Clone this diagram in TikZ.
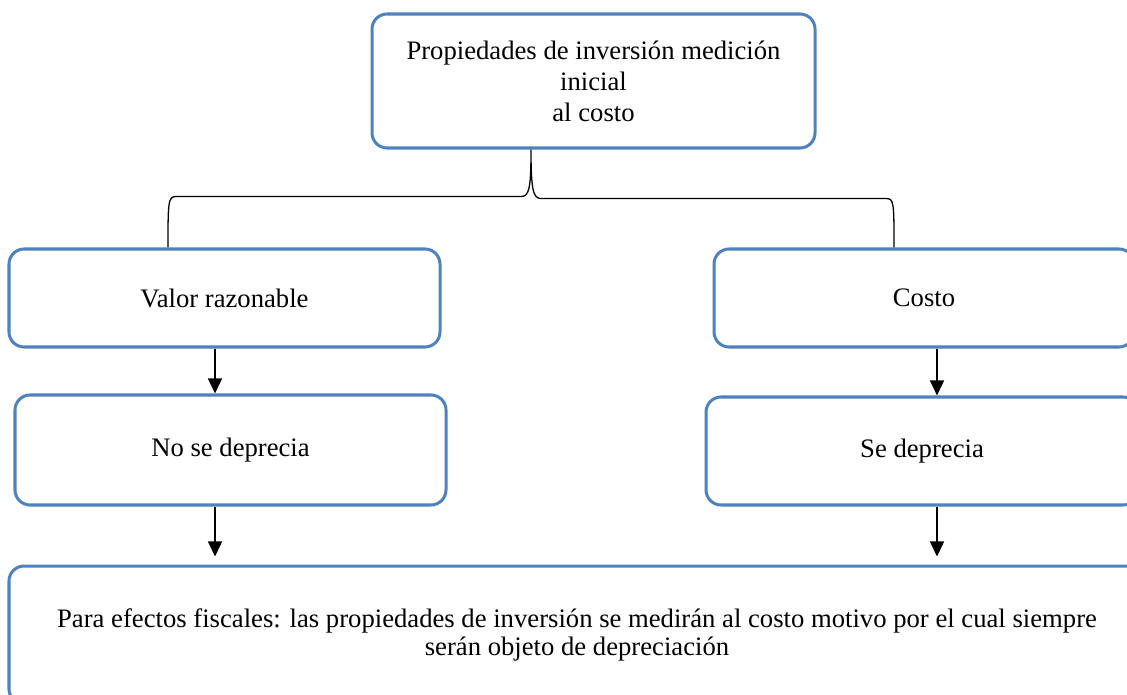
\documentclass[tikz,border=0pt]{standalone}
\usepackage{fontspec}
\setmainfont{Liberation Serif}
\usetikzlibrary{arrows.meta}
\definecolor{boxblue}{RGB}{79,129,189}
\newcommand{\px}{0.465pt}
\newcommand{\boxline}{1.4pt}
\tikzset{
  stepbox/.style={draw=boxblue, line width=\boxline, rounded corners=7pt,
    align=center, inner sep=0pt, font=\fontsize{12.4pt}{14.4pt}\selectfont},
  flow/.style={-{Triangle[length=7pt,width=6.5pt]}, line width=0.7pt},
  bracket/.style={line width=0.6pt},
}

\begin{document}
\begin{tikzpicture}[x=\px, y=-\px]
    \useasboundingbox (0,0) rectangle (1127,694);
    \clip (0,0) rectangle (1127,694);
    % boxes
    \node[stepbox, minimum width=443*\px, minimum height=134*\px]
      (medicion) at (593.5,81)
      {Propiedades de inversión medición\\inicial\\al costo};
    \node[stepbox, minimum width=431*\px, minimum height=98*\px]
      (valor) at (224.5,298) {\raisebox{-1pt}{Valor razonable}};
    \node[stepbox, minimum width=420*\px, minimum height=98*\px]
      (costo) at (924,298) {\raisebox{-1pt}{Costo}};
    \node[stepbox, minimum width=431*\px, minimum height=110*\px]
      (nodep) at (230.5,450) {\raisebox{-1pt}{No se deprecia}};
    \node[stepbox, minimum width=432*\px, minimum height=108*\px]
      (sedep) at (922,451) {\raisebox{-1pt}{Se deprecia}};
    \node[stepbox, minimum width=1136*\px, minimum height=138*\px,
      font=\fontsize{12.4pt}{13pt}\selectfont]
      (fiscal) at (577,635)
      {Para efectos fiscales: las propiedades de inversión se medirán al costo motivo por el cual siempre\\serán objeto de depreciación};
    % helper columns
    \coordinate (lx) at (215,0);
    \coordinate (rx) at (937,0);
    \coordinate (bl) at (168,0);
    \coordinate (bm) at (531,0);
    \coordinate (br) at (894,0);
    % bracket
    \draw[bracket] (valor.north -| bl)
      .. controls +(0,-45) and +(-8,0) .. ++(8,-51) -- ++(345,0)
      .. controls +(8,0) and +(0,40) .. (medicion.south -| bm)
      .. controls +(0,40) and +(-8,0) .. ++(10,49) -- ++(345,0)
      .. controls +(8,0) and +(0,-45) .. (costo.north -| br);
    % arrows
    \draw[flow] (valor.south -| lx) -- (nodep.north -| lx);
    \draw[flow] (costo.south -| rx) -- (sedep.north -| rx);
    \draw[flow, shorten >=3.7pt] (nodep.south -| lx) -- (fiscal.north -| lx);
    \draw[flow, shorten >=3.7pt] (sedep.south -| rx) -- (fiscal.north -| rx);
\end{tikzpicture}
\end{document}
